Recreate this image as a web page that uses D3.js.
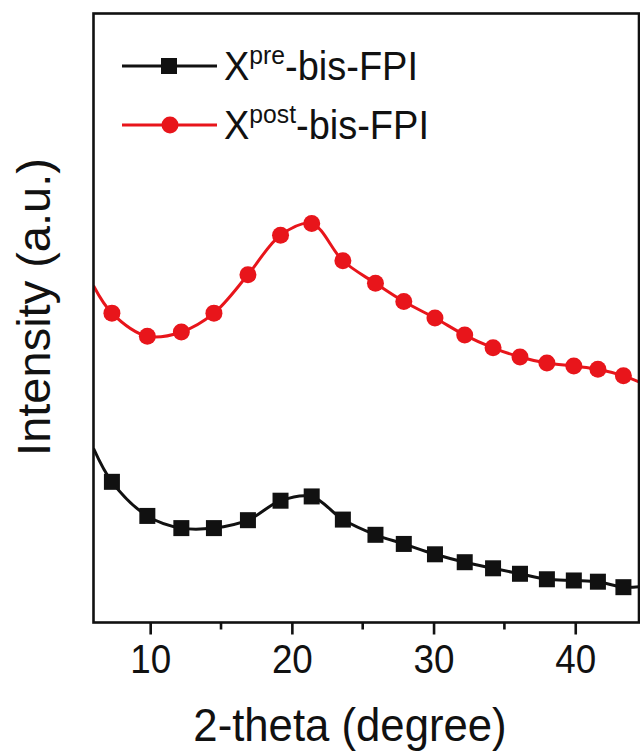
<!DOCTYPE html>
<html>
<head>
<meta charset="utf-8">
<script src="https://cdn.jsdelivr.net/npm/d3@7"></script>
<style>
    body { margin: 0; background: #fff; }
    text { font-family: "Liberation Sans", Arial, sans-serif; fill: #111; }
</style>
</head>
<body>
<script>
// values (intensity in arbitrary units)
const twoTheta = [6.0, 7.3, 9.8, 12.2, 14.5, 16.9, 19.2, 21.4, 23.6, 25.9, 27.9, 30.1, 32.2, 34.2, 36.1, 38.0, 39.9, 41.6, 43.4, 44.6];
const preIntensity = [28.6, 23.1, 17.5, 15.5, 15.5, 16.8, 20.0, 20.7, 16.9, 14.4, 12.9, 11.2, 9.9, 8.9, 8.0, 7.1, 6.9, 6.7, 5.8, 5.9];
const postIntensity = [55.3, 50.8, 47.0, 47.7, 50.8, 57.1, 63.6, 65.5, 59.4, 55.7, 52.7, 50.0, 47.2, 45.1, 43.6, 42.6, 42.1, 41.6, 40.5, 39.4];
const majorTicks = [10, 20, 30, 40];
const minorTicks = [15, 25, 35];
const seriesNames = ["pre", "post"];

window.onload = function () {
    const w = 640, h = 753;
    const left = 93.5, right = 639, top = 13.5, bottom = 622.5;

    const svg = d3.select("body").append("svg")
        .attr("width", w)
        .attr("height", h);

    const x = d3.scaleLinear().domain([6, 44.5]).range([left, right]);
    const y = d3.scaleLinear().domain([0, 100]).range([bottom, top]);

    svg.append("clipPath").attr("id", "clip")
        .append("rect")
        .attr("x", left).attr("y", top)
        .attr("width", right - left).attr("height", bottom - top);

    const series = [
        {name: seriesNames[0], values: preIntensity, color: "#111", marker: "square"},
        {name: seriesNames[1], values: postIntensity, color: "#e8151b", marker: "circle"}
    ];

    const line = d3.line()
        .x((d) => x(d[0]))
        .y((d) => y(d[1]))
        .curve(d3.curveCatmullRom);

    const plot = svg.append("g").attr("clip-path", "url(#clip)");

    series.forEach(function (s) {
        const pts = twoTheta.map((t, i) => [t, s.values[i]]);
        plot.append("path")
            .datum(pts)
            .attr("fill", "none")
            .attr("stroke", s.color)
            .attr("stroke-width", 3)
            .attr("d", line);

        // first and last points are where the scan is cut by the frame: no marker there
        const marks = pts.slice(1, pts.length - 1);
        if (s.marker === "square") {
            plot.selectAll(".m-" + s.name)
                .data(marks)
                .enter().append("rect")
                .attr("x", (d) => x(d[0]) - 8)
                .attr("y", (d) => y(d[1]) - 8)
                .attr("width", 16)
                .attr("height", 16)
                .attr("fill", s.color);
        } else {
            plot.selectAll(".m-" + s.name)
                .data(marks)
                .enter().append("circle")
                .attr("cx", (d) => x(d[0]))
                .attr("cy", (d) => y(d[1]))
                .attr("r", 8.5)
                .attr("fill", s.color);
        }
    });

    // frame
    svg.append("rect")
        .attr("x", left).attr("y", top)
        .attr("width", right - left).attr("height", bottom - top)
        .attr("fill", "none")
        .attr("stroke", "#111")
        .attr("stroke-width", 2.6);

    // bottom axis, ticks pointing out
    const xAxis = svg.append("g")
        .attr("transform", "translate(0," + bottom + ")")
        .call(d3.axisBottom(x).tickValues(majorTicks).tickSize(12).tickPadding(10).tickFormat(d3.format("d")));
    xAxis.select(".domain").remove();
    xAxis.selectAll(".tick line").attr("stroke", "#111").attr("stroke-width", 2.6);
    xAxis.selectAll(".tick text")
        .attr("font-size", 40)
        .attr("font-family", "Liberation Sans, Arial, sans-serif")
        .attr("fill", "#111")
        .attr("transform", "scale(0.92,1)");

    svg.append("g")
        .attr("transform", "translate(0," + bottom + ")")
        .selectAll("line")
        .data(minorTicks)
        .enter().append("line")
        .attr("x1", (d) => x(d)).attr("x2", (d) => x(d))
        .attr("y1", 0).attr("y2", 7)
        .attr("stroke", "#111")
        .attr("stroke-width", 2.6);

    // axis titles
    svg.append("text")
        .attr("transform", "translate(350,741) scale(0.95,1)")
        .attr("text-anchor", "middle")
        .attr("font-size", 46)
        .text("2-theta (degree)");

    svg.append("text")
        .attr("transform", "translate(50,307) rotate(-90)")
        .attr("text-anchor", "middle")
        .attr("font-size", 47)
        .text("Intensity (a.u.)");

    // legend
    const legend = svg.append("g");
    series.forEach(function (s, i) {
        const ly = 66 + i * 59;
        const g = legend.append("g").attr("transform", "translate(0," + ly + ")");
        g.append("line")
            .attr("x1", 122).attr("x2", 217)
            .attr("y1", 0).attr("y2", 0)
            .attr("stroke", s.color)
            .attr("stroke-width", 3);
        if (s.marker === "square") {
            g.append("rect")
                .attr("x", 161).attr("y", -8)
                .attr("width", 16).attr("height", 16)
                .attr("fill", s.color);
        } else {
            g.append("circle")
                .attr("cx", 170).attr("cy", 0)
                .attr("r", 8.5)
                .attr("fill", s.color);
        }
        const t = g.append("text")
            .attr("transform", "translate(224,14) scale(0.95,1)")
            .attr("font-size", 40);
        t.append("tspan").text("X");
        t.append("tspan").attr("font-size", 26).attr("dy", -16).text(s.name);
        t.append("tspan").attr("dy", 16).text("-bis-FPI");
    });
};
</script>
</body>
</html>
